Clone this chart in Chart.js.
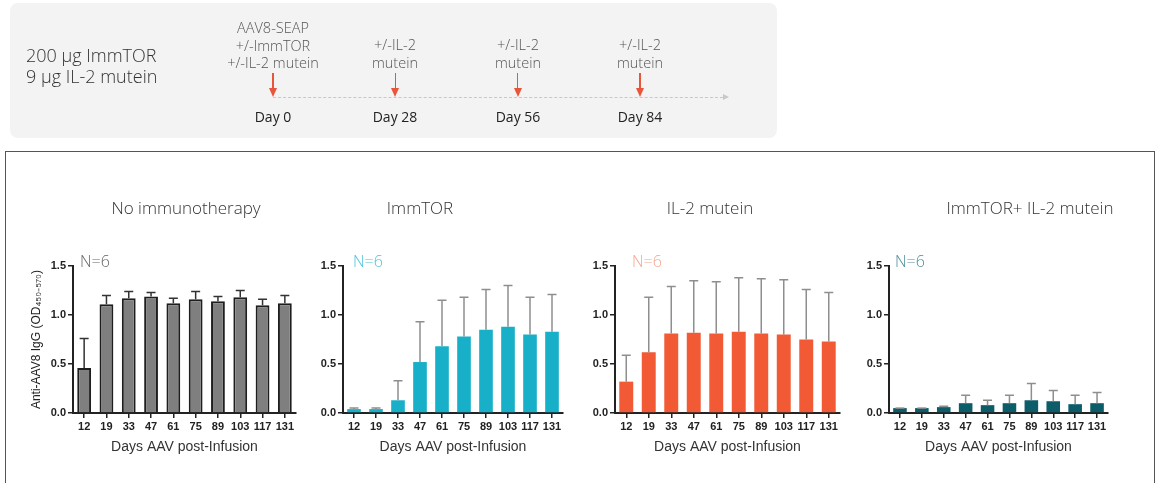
<!DOCTYPE html>
<html>
<head>
<meta charset="utf-8">
<script src="https://cdn.jsdelivr.net/npm/chart.js@4.4.1/dist/chart.umd.min.js"></script>
<style>
  body { margin: 0; background: #fff; font-family: 'Open Sans', sans-serif; -webkit-font-smoothing: antialiased; }
  #page { position: relative; width: 1159px; height: 483px; overflow: hidden; }
  .panel { position: absolute; left: 10px; top: 3px; width: 767px; height: 135px; background: #f3f3f3; border-radius: 8px; }
  .dose, .note, .day, .title, .n { will-change: transform; }
  .dose { position: absolute; left: 26px; top: 45px; font-size: 18px; line-height: 21px; color: #333; font-weight: 300; }
  .note { position: absolute; font-size: 14.5px; line-height: 17.5px; color: #555; text-align: center; transform: translateX(-50%); white-space: nowrap; font-weight: 300; }
  .arrow { position: absolute; top: 73px; width: 1.5px; height: 17px; background: #e8553a; }
  .arrow::after { content: ''; position: absolute; left: -3.3px; top: 15px; border-left: 4px solid transparent; border-right: 4px solid transparent; border-top: 9px solid #e8553a; }
  .track { position: absolute; left: 273px; top: 97px; width: 450px; border-top: 1.5px dashed #c8c8c8; }
  .track::after { content: ''; position: absolute; right: -6px; top: -4.5px; border-top: 3.5px solid transparent; border-bottom: 3.5px solid transparent; border-left: 6px solid #c8c8c8; }
  .day { position: absolute; top: 107px; font-size: 14px; color: #222; transform: translateX(-50%); white-space: nowrap; }
  .frame { position: absolute; left: 5px; top: 151px; width: 1148px; height: 400px; border: 1.5px solid #555; }
  .title { position: absolute; top: 196px; font-size: 17px; color: #333; transform: translateX(-50%); white-space: nowrap; font-weight: 300; }
  .n { position: absolute; top: 250px; font-size: 16px; font-weight: 300; }
  canvas { position: absolute; }
</style>
</head>
<body>
<div id="page">
  <div class="panel"></div>
  <div class="dose">200 μg ImmTOR<br>9 μg IL-2 mutein</div>
  <div class="track"></div>
  <div class="frame"></div>
  <canvas id="c0" width="280" height="215" style="left:22px;top:250px"></canvas>
  <canvas id="c1" width="264" height="215" style="left:305px;top:250px"></canvas>
  <canvas id="c2" width="269" height="215" style="left:577px;top:250px"></canvas>
  <canvas id="c3" width="263" height="215" style="left:851px;top:250px"></canvas>
</div>
<script>
// Dosing timeline
const doseDays = [0, 28, 56, 84];
const doseNotes = [
  ['AAV8-SEAP', '+/-ImmTOR', '+/-IL-2 mutein'],
  ['+/-IL-2', 'mutein'],
  ['+/-IL-2', 'mutein'],
  ['+/-IL-2', 'mutein']
];

// Sampling days (x categories)
const days = ['12', '19', '33', '47', '61', '75', '89', '103', '117', '131'];

// Mean anti-AAV8 IgG (OD) and upper error per group
const meanNone   = [0.46, 1.11, 1.17, 1.19, 1.12, 1.16, 1.14, 1.18, 1.10, 1.12];
const errNone    = [0.30, 0.09, 0.07, 0.04, 0.05, 0.08, 0.05, 0.07, 0.06, 0.08];
const meanImmTOR = [0.04, 0.04, 0.13, 0.52, 0.68, 0.78, 0.85, 0.88, 0.80, 0.83];
const errImmTOR  = [0.01, 0.01, 0.20, 0.41, 0.47, 0.40, 0.41, 0.42, 0.38, 0.38];
const meanIL2    = [0.32, 0.62, 0.81, 0.82, 0.81, 0.83, 0.81, 0.80, 0.75, 0.73];
const errIL2     = [0.27, 0.56, 0.48, 0.53, 0.53, 0.55, 0.56, 0.56, 0.51, 0.50];
const meanCombo  = [0.05, 0.05, 0.06, 0.10, 0.08, 0.10, 0.13, 0.12, 0.09, 0.10];
const errCombo   = [0.00, 0.00, 0.01, 0.08, 0.05, 0.08, 0.17, 0.11, 0.09, 0.11];

const groupNames = ['No immunotherapy', 'ImmTOR', 'IL-2 mutein', 'ImmTOR+ IL-2 mutein'];
const groupN = ['N=6', 'N=6', 'N=6', 'N=6'];

const panels = [
  { id: 'c0', mean: meanNone, err: errNone, fill: '#7f7f7f', border: '#1e1e1e', borderWidth: 2, errColor: '#333', nColor: '#666', nLeft: 80, titleX: 186, axisWidth: 51, yTitle: true },
  { id: 'c1', mean: meanImmTOR, err: errImmTOR, fill: '#18b0c9', border: '#18b0c9', borderWidth: 0, errColor: '#8e8e8e', nColor: '#4cc3da', nLeft: 353, titleX: 420, axisWidth: 38, yTitle: false },
  { id: 'c2', mean: meanIL2, err: errIL2, fill: '#f15a35', border: '#f15a35', borderWidth: 0, errColor: '#8e8e8e', nColor: '#f5a590', nLeft: 632, titleX: 710, axisWidth: 38, yTitle: false },
  { id: 'c3', mean: meanCombo, err: errCombo, fill: '#0c5c6a', border: '#0c5c6a', borderWidth: 0, errColor: '#8e8e8e', nColor: '#4c8f9a', nLeft: 895, titleX: 1030, axisWidth: 38, yTitle: false }
];

const page = document.getElementById('page');
function addDiv(cls, html, style) {
  const d = document.createElement('div');
  d.className = cls;
  d.innerHTML = html;
  Object.assign(d.style, style);
  page.appendChild(d);
  return d;
}

// timeline: day 0 at x=273, day 84 at x=640
const dayX = d => 273 + d * (367 / 84);
doseDays.forEach((d, i) => {
  const x = dayX(d);
  const lines = doseNotes[i];
  addDiv('note', lines.join('<br>'), { left: x + 'px', top: (71 - lines.length * 17.5) + 'px' });
  addDiv('arrow', '', { left: (x - 0.75) + 'px' });
  addDiv('day', 'Day ' + d, { left: x + 'px' });
});

// Error bars drawn above the bars, upper side only
const errorBars = {
  id: 'errorBars',
  afterDatasetsDraw(chart) {
    const { ctx, scales: { y } } = chart;
    const ds = chart.data.datasets[0];
    const meta = chart.getDatasetMeta(0);
    ctx.save();
    ctx.strokeStyle = ds.errColor;
    ctx.lineWidth = 1.5;
    meta.data.forEach((bar, i) => {
      const base = y.getPixelForValue(ds.data[i]);
      const top = y.getPixelForValue(ds.data[i] + ds.errors[i]);
      ctx.beginPath();
      ctx.moveTo(bar.x, base);
      ctx.lineTo(bar.x, top);
      ctx.moveTo(bar.x - 4.5, top);
      ctx.lineTo(bar.x + 4.5, top);
      ctx.stroke();
    });
    ctx.restore();
  }
};

const tickFont = { family: 'Liberation Sans, Arial, sans-serif', size: 11, weight: 'bold' };

panels.forEach((p, i) => {
  addDiv('title', groupNames[i], { left: p.titleX + 'px' });
  addDiv('n', groupN[i], { left: p.nLeft + 'px', color: p.nColor });

  new Chart(document.getElementById(p.id), {
    type: 'bar',
    data: {
      labels: days,
      datasets: [{
        data: p.mean,
        errors: p.err,
        errColor: p.errColor,
        backgroundColor: p.fill,
        borderColor: p.border,
        borderWidth: p.borderWidth,
        categoryPercentage: 1,
        barPercentage: 0.62
      }]
    },
    options: {
      responsive: false,
      animation: false,
      layout: { padding: { top: 16, right: 6, left: 0, bottom: 0 } },
      plugins: { legend: { display: false }, tooltip: { enabled: false } },
      scales: {
        x: {
          offset: true,
          grid: { display: true, offset: false, drawOnChartArea: false, drawTicks: true, tickLength: 5, color: '#222', lineWidth: 1.5 },
          border: { color: '#222', width: 2 },
          ticks: { color: '#222', font: tickFont, padding: 2, maxRotation: 0, autoSkip: false },
          title: { display: true, text: 'Days AAV post-Infusion', color: '#333', font: { family: 'Liberation Sans, Arial, sans-serif', size: 14 }, padding: { top: 0, bottom: 9 } },
          afterFit: s => { s.height = 52; }
        },
        y: {
          min: 0,
          max: 1.5,
          grid: { display: true, drawOnChartArea: false, drawTicks: true, tickLength: 5, color: '#222', lineWidth: 1.5 },
          border: { color: '#222', width: 2 },
          ticks: { stepSize: 0.5, callback: v => v.toFixed(1), color: '#222', font: tickFont, padding: 2 },
          title: { display: p.yTitle, text: 'Anti-AAV8 IgG (OD₄₅₀₋₅₇₀)', color: '#222', font: { family: 'Liberation Sans, Arial, sans-serif', size: 12 }, padding: { top: 7, bottom: 0 } },
          afterFit: s => { s.width = p.axisWidth; }
        }
      }
    },
    plugins: [errorBars]
  });
});
</script>
</body>
</html>
